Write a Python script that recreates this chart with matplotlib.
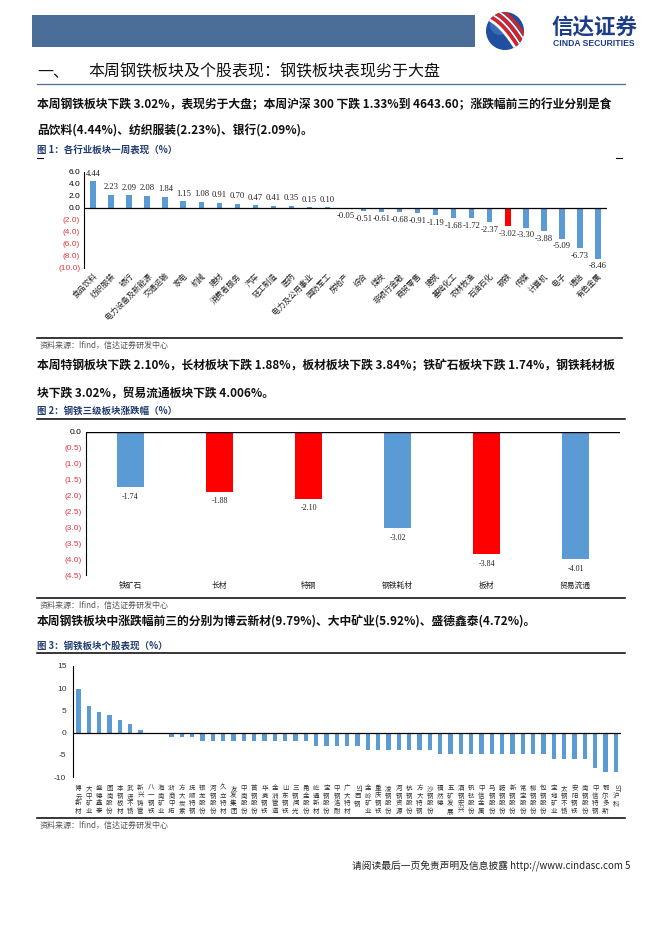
import numpy as np
import matplotlib
matplotlib.use("Agg")
import matplotlib.pyplot as plt
from matplotlib.patches import Rectangle, Circle
from matplotlib.transforms import offset_copy

CJK = ['Noto Sans CJK SC', 'DejaVu Sans']
plt.rcParams['font.family'] = CJK
plt.rcParams['axes.unicode_minus'] = False

# ---------------- data ----------------
ind_names = ['食品饮料', '纺织服装', '银行', '电力设备及新能源', '交通运输', '家电', '机械', '建材',
             '消费者服务', '汽车', '轻工制造', '医药', '电力及公用事业', '国防军工', '房地产', '综合',
             '煤炭', '非银行金融', '商贸零售', '建筑', '基础化工', '农林牧渔', '石油石化', '钢铁',
             '传媒', '计算机', '电子', '通信', '有色金属']
ind_values = [4.44, 2.23, 2.09, 2.08, 1.84, 1.15, 1.08, 0.91, 0.70, 0.47, 0.41, 0.35, 0.15, 0.10,
              -0.05, -0.51, -0.61, -0.68, -0.91, -1.19, -1.68, -1.72, -2.37, -3.02, -3.30, -3.88,
              -5.09, -6.73, -8.46]
ind_highlight = '钢铁'
ind_yticks = [6, 4, 2, 0, -2, -4, -6, -8, -10]

sub_names = ['铁矿石', '长材', '特钢', '钢铁耗材', '板材', '贸易流通']
sub_values = [-1.74, -1.88, -2.10, -3.02, -3.84, -4.01]
sub_red = [False, True, True, False, True, False]
sub_yticks = [0, -0.5, -1.0, -1.5, -2.0, -2.5, -3.0, -3.5, -4.0, -4.5]

stock_names = ['博云新材', '大中矿业', '盛德鑫泰', '图南股份', '本钢板材', '武进不锈', '新兴铸管',
               '八一钢铁', '海南矿业', '浙商中拓', '方大炭素', '抚顺特钢', '银龙股份', '河钢股份',
               '久立特材', '友发集团', '中南股份', '首钢股份', '华菱钢铁', '金洲管道', '山东钢铁',
               '三钢闽光', '甬金股份', '屹通新材', '宝钢股份', '中钢洛耐', '广大特材', 'ST西钢',
               '金岭矿业', '重庆钢铁', '凌钢股份', '河钢资源', '杭钢股份', '方大特钢', '沙钢股份',
               '福然德', '五矿发展', '酒钢宏兴', '钒钛股份', '中信金属', '马钢股份', '鞍钢股份',
               '新钢股份', '常宝股份', '柳钢股份', '包钢股份', '宝地矿业', '太钢不锈', '安阳钢铁',
               '南钢股份', '中信特钢', '鄂尔多斯', 'ST沪科']
stock_values = [9.79, 5.92, 4.72, 3.90, 2.95, 1.95, 0.65, 0.0, 0.0,
                -0.95, -0.95, -0.95,
                -1.95, -1.95, -1.95, -1.95, -1.95, -1.95, -1.95, -1.95, -1.95, -1.95, -1.95,
                -2.95, -2.95, -2.95, -2.95, -2.95,
                -3.9, -3.9, -3.9, -3.9, -3.9, -3.9, -3.9,
                -4.9, -4.9, -4.9, -4.9, -4.9, -4.9, -4.9, -4.9, -4.9, -4.9, -4.9,
                -5.9, -5.9, -5.9, -5.9,
                -7.9, -8.8, -8.8]
stock_yticks = [15, 10, 5, 0, -5, -10]

# ---------------- page ----------------
W, H = 662, 936
fig = plt.figure(figsize=(W / 100, H / 100), dpi=100)
fig.patch.set_facecolor('white')

def rect(l, t, r, b):
    return [l / W, 1 - b / H, (r - l) / W, (b - t) / H]

bg = fig.add_axes([0, 0, 1, 1])
bg.set_xlim(0, W)
bg.set_ylim(H, 0)
bg.axis('off')

BLUE_BAR = '#4a6e98'
NAVY = '#1c3d87'
CAP = '#1f3b70'
BARC = '#5b9bd5'
REDT = '#e8383d'

# header
bg.add_patch(Rectangle((32, 15), 443, 32, color=BLUE_BAR, lw=0))
circ = Circle((505, 31), 19, color='#1f4f9e', lw=0)
bg.add_patch(circ)
bg.add_patch(Circle((500, 25), 10, color='#4d7fc6', lw=0, alpha=0.6, clip_path=circ))
t = np.linspace(0, 1, 60)
for off, col, lw in [(-7, 'white', 2.2), (-4, '#e02020', 2.4), (-1, 'white', 1.2),
                     (2, '#e02020', 2.4), (5, 'white', 1.2), (8, '#e02020', 2.0)]:
    xs = 484 + 42 * t + off * 0.7
    ys = 10 + 42 * t - off * 0.7 - 8 * np.sin(np.pi * t)
    ln, = bg.plot(xs, ys, color=col, lw=lw, solid_capstyle='butt')
    ln.set_clip_path(circ)
bg.text(594, 27.5, '信达证券', fontsize=15.5, weight='bold', color=NAVY, ha='center', va='center')
bg.text(594, 44, 'CINDA SECURITIES', fontsize=6.2, weight='bold', color=NAVY, ha='center',
        va='center', family=['Liberation Sans', 'DejaVu Sans'])

# heading
bg.text(37, 72, '一、', fontsize=11.5, va='center', color='#111')
bg.text(88, 72, '本周钢铁板块及个股表现：钢铁板块表现劣于大盘', fontsize=11.5, va='center', color='#111')
bg.plot([37, 625], [84, 84], color=BLUE_BAR, lw=0.9)

PF = 8.5
bg.text(37, 105, '本周钢铁板块下跌 3.02%，表现劣于大盘；本周沪深 300 下跌 1.33%到 4643.60；涨跌幅前三的行业分别是食',
        fontsize=PF, weight='bold', va='center', color='#111')
bg.text(37, 131, '品饮料(4.44%)、纺织服装(2.23%)、银行(2.09%)。', fontsize=PF, weight='bold', va='center', color='#111')
bg.text(37, 150, '图 1：各行业板块一周表现（%）', fontsize=6.8, weight='bold', va='center', color=CAP)
bg.plot([37, 43], [158, 158], color='k', lw=0.8)
bg.plot([616, 622], [158, 158], color='k', lw=0.8)

SRC = '资料来源：Ifind，信达证券研发中心'

# ---------------- chart 1 ----------------
ax1 = fig.add_axes(rect(84.3, 172, 606.7, 268))
x1 = np.arange(len(ind_names))
cols1 = ['#ff0000' if n == ind_highlight else BARC for n in ind_names]
ax1.bar(x1, ind_values, width=0.32, color=cols1, zorder=2)
ax1.set_xlim(-0.5, len(ind_names) - 0.5)
ax1.set_ylim(-10, 6)
ax1.axhline(0, color='k', lw=0.9, zorder=3)
for s in ['top', 'right', 'bottom']:
    ax1.spines[s].set_visible(False)
ax1.spines['left'].set_color('k')
ax1.spines['left'].set_linewidth(0.8)
ax1.set_yticks(ind_yticks)
ax1.set_yticklabels([f'{v:.1f}' if v >= 0 else f'({-v:.1f})' for v in ind_yticks],
                    family=['Liberation Sans', 'DejaVu Sans'], fontsize=6)
for lab, v in zip(ax1.get_yticklabels(), ind_yticks):
    lab.set_color('k' if v >= 0 else REDT)
ax1.tick_params(axis='y', length=0, pad=3)
ax1.set_xticks(x1)
ax1.set_xticklabels(ind_names, rotation=45, ha='right', rotation_mode='anchor', fontsize=5.6, color='#222')
ax1.tick_params(axis='x', length=0, pad=3)
for i, v in enumerate(ind_values):
    if v >= 0:
        ax1.annotate(f'{v:.2f}', (i, v), xytext=(0, 2.5), textcoords='offset points', ha='center',
                     va='bottom', fontsize=6.2, family=['Liberation Serif', 'DejaVu Serif'], color='#222')
    else:
        ax1.annotate(f'{v:.2f}', (i, v), xytext=(0, -2.5), textcoords='offset points', ha='center',
                     va='top', fontsize=6.2, family=['Liberation Serif', 'DejaVu Serif'], color='#222')
ax1.patch.set_alpha(0)

bg.plot([37, 622], [338, 338], color='k', lw=1.1)
bg.text(40, 345, SRC, fontsize=5.8, va='center', color='#555')

# ---------------- paragraph 2 + chart 2 ----------------
bg.text(37, 366, '本周特钢板块下跌 2.10%，长材板块下跌 1.88%，板材板块下跌 3.84%；铁矿石板块下跌 1.74%，钢铁耗材板',
        fontsize=PF, weight='bold', va='center', color='#111')
bg.text(37, 393, '块下跌 3.02%，贸易流通板块下跌 4.006%。', fontsize=PF, weight='bold', va='center', color='#111')
bg.text(37, 411, '图 2：钢铁三级板块涨跌幅（%）', fontsize=6.8, weight='bold', va='center', color=CAP)
bg.plot([37, 625], [419, 419], color='k', lw=1.1)

ax2 = fig.add_axes(rect(86, 432, 620, 575))
x2 = np.arange(len(sub_names))
ax2.bar(x2, sub_values, width=0.31, color=['#ff0000' if r else BARC for r in sub_red], zorder=2)
ax2.set_xlim(-0.5, len(sub_names) - 0.5)
ax2.set_ylim(-4.5, 0)
ax2.axhline(0, color='k', lw=1.0, zorder=3)
for s in ['top', 'right', 'bottom']:
    ax2.spines[s].set_visible(False)
ax2.spines['left'].set_color('k')
ax2.spines['left'].set_linewidth(0.8)
ax2.set_yticks(sub_yticks)
ax2.set_yticklabels([f'{v:.1f}' if v >= 0 else f'({-v:.1f})' for v in sub_yticks],
                    family=['Liberation Sans', 'DejaVu Sans'], fontsize=6)
for lab, v in zip(ax2.get_yticklabels(), sub_yticks):
    lab.set_color('k' if v >= 0 else REDT)
ax2.tick_params(axis='y', length=0, pad=3)
ax2.set_xticks(x2)
ax2.set_xticklabels(sub_names, fontsize=5.6, color='#222')
ax2.tick_params(axis='x', length=0, pad=5)
for i, v in enumerate(sub_values):
    ax2.annotate(f'{v:.2f}', (i, v), xytext=(0, -4), textcoords='offset points', ha='center', va='top',
                 fontsize=5.8, family=['Liberation Serif', 'DejaVu Serif'], color='#222')
ax2.patch.set_alpha(0)

bg.plot([37, 625], [598, 598], color='k', lw=1.1)
bg.text(40, 605, SRC, fontsize=5.8, va='center', color='#555')

# ---------------- paragraph 3 + chart 3 ----------------
bg.text(37, 622, '本周钢铁板块中涨跌幅前三的分别为博云新材(9.79%)、大中矿业(5.92%)、盛德鑫泰(4.72%)。',
        fontsize=PF, weight='bold', va='center', color='#111')
bg.text(37, 646, '图 3：钢铁板块个股表现（%）', fontsize=6.8, weight='bold', va='center', color=CAP)
bg.plot([37, 625], [653, 653], color='k', lw=1.1)

ax3 = fig.add_axes(rect(73.3, 666, 621, 777))
x3 = np.arange(len(stock_names))
ax3.bar(x3, stock_values, width=0.4, color=BARC, zorder=2)
ax3.set_xlim(-0.5, len(stock_names) - 0.5)
ax3.set_ylim(-10, 15)
ax3.axhline(0, color='k', lw=0.9, zorder=3)
for s in ['top', 'right', 'bottom']:
    ax3.spines[s].set_visible(False)
ax3.spines['left'].set_color('k')
ax3.spines['left'].set_linewidth(0.8)
ax3.set_yticks(stock_yticks)
ax3.set_yticklabels([str(v) for v in stock_yticks], family=['Liberation Sans', 'DejaVu Sans'],
                    fontsize=6, color='#333')
ax3.tick_params(axis='y', length=0, pad=5)
ax3.set_xticks([])
ax3.patch.set_alpha(0)
xtr = ax3.get_xaxis_transform()
LF = 4.7
for i, name in enumerate(stock_names):
    dy = -5.0
    rest = name
    if name.startswith('ST'):
        tr = offset_copy(xtr, fig=fig, x=0, y=dy, units='points')
        ax3.text(i, 0, 'ST', transform=tr, rotation=270, ha='center', va='top', fontsize=LF,
                 family=['Liberation Sans', 'DejaVu Sans'], color='#333')
        dy -= LF * 1.3
        rest = name[2:]
    tr = offset_copy(xtr, fig=fig, x=0, y=dy, units='points')
    ax3.text(i, 0, '\n'.join(rest), transform=tr, ha='center', va='top', fontsize=LF,
             linespacing=0.95, color='#333')

bg.plot([37, 625], [818, 818], color='k', lw=1.1)
bg.text(40, 825, SRC, fontsize=5.8, va='center', color='#555')

# footer
bg.text(630, 866, '请阅读最后一页免责声明及信息披露 http://www.cindasc.com 5', fontsize=7, ha='right',
        va='center', color='#222')

fig.savefig('out.png', dpi=100, facecolor='white')
